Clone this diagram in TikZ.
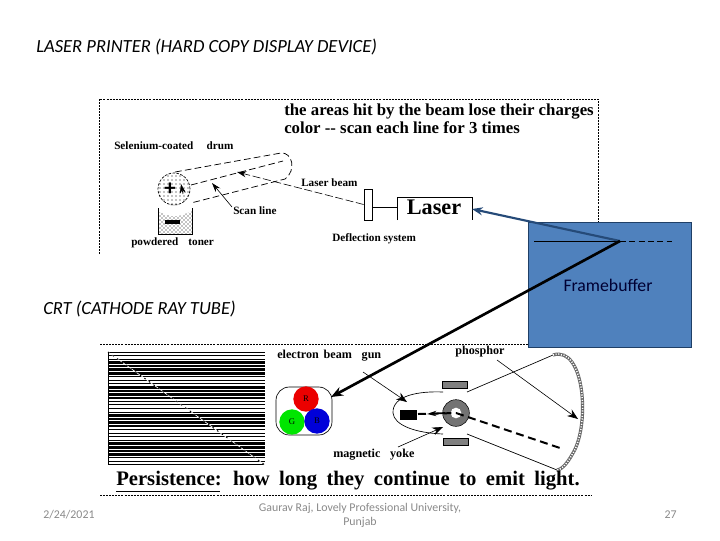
\documentclass[tikz,border=0pt]{standalone}
\usepackage{fontspec}
\setmainfont{Carlito}
\newfontfamily\figserif{Liberation Serif}
\usetikzlibrary{arrows.meta,patterns}
\definecolor{fbblue}{HTML}{4F81BD}
\definecolor{fbedge}{HTML}{1F3F66}
\definecolor{beamblue}{HTML}{254A78}
\tikzset{
  px/.style={x=0.75pt,y=-0.75pt},
  slidetitle/.style={anchor=west,inner sep=0,font=\fontsize{13.9}{16}\selectfont\itshape},
  foot/.style={inner sep=0,text=black!46,font=\fontsize{8.9}{10.5}\selectfont,align=center},
  figlabel/.style={anchor=west,inner sep=0,font=\figserif\bfseries\fontsize{8.4}{9}\selectfont},
  crtlabel/.style={anchor=west,inner sep=0,font=\figserif\bfseries\fontsize{9.1}{10}\selectfont},
  figtitle/.style={anchor=west,inner sep=0,font=\figserif\bfseries\fontsize{12.6}{14}\selectfont},
  frame/.style={line width=0.6pt,dash pattern=on 1.5pt off 0.8pt},
  dash line/.style={line width=0.55pt,dash pattern=on 5pt off 2.5pt},
  small tip/.style={-{Stealth[length=7pt,width=4.5pt]},line width=0.45pt},
  big tip/.style={-{Stealth[length=8pt,width=6pt]},line width=0.45pt},
  framebuffer/.style={draw=fbedge,line width=0.7pt,fill=fbblue,inner sep=0},
  yoke/.style={draw,line width=0.4pt,fill=black!50,minimum width=19pt,minimum height=5.5pt,inner sep=0},
  gunball/.style={circle,minimum size=19pt,inner sep=0,font=\figserif\fontsize{6.5}{7}\selectfont},
}
\begin{document}
\begin{tikzpicture}[px]
\useasboundingbox (0,0) rectangle (720,540);
\fill[white] (0,0) rectangle (720,540);

% slide titles
\node[slidetitle] (t1) at (36,47) {LASER PRINTER (HARD COPY DISPLAY DEVICE)};
\node[slidetitle] (t2) at (43,309) {CRT (CATHODE RAY TUBE)};

% upper figure frame
\draw[frame] (99,254) -- (99,99) -- (598,99) -- (598,225);
\node[figtitle] (l1) at (284,112) {the areas hit by the beam lose their charges};
\node[figtitle] (l2) at (284,128) {color -- scan each line for 3 times};
\node[figlabel] (sel) at (114,146) {Selenium-coated\hspace{1.2em}drum};
\node[figlabel] (lb) at (301,183) {Laser beam};
\node[figlabel] (sl) at (233,211) {Scan line};
\node[figlabel] (pt) at (131,243) {powdered\hspace{0.9em}toner};
\node[figlabel] (ds) at (332,239) {Deflection system};

% drum
\node[circle,draw,dash pattern=on 2pt off 1pt,line width=0.5pt,pattern=dots,minimum size=24pt,inner sep=0] (drum) at (174,189) {};
\draw[dash line] (175,172) -- (281,153) .. controls (292,152) and (297,170) .. (285,179) -- (191,203);
\draw[dash line] (191,185) -- (283,161);
\node[inner sep=0,font=\bfseries\fontsize{17}{17}\selectfont] (plus) at (170,189) {+};
\draw[small tip] (183,194) -- (181,184);
% toner
\path[pattern=crosshatch dots] (159,212) .. controls (170,218) and (182,218) .. (192,210) -- (192,234) -- (159,234) -- cycle;
\draw[line width=0.5pt] (158,208) -- (158,234) -- (192,234) -- (192,208);
\fill (165,220) rectangle (180,224);

% scan and laser arrows
\coordinate (sl0) at (232,207);
\coordinate (sl1) at (212,183);
\draw[small tip] (sl0) -- (sl1);
\coordinate (beamhit) at (237,172);
\node[draw,line width=0.5pt,fill=white,minimum width=6pt,minimum height=23pt,inner sep=0] (defl) at (368,204.5) {};
\draw[small tip,dash pattern=on 6pt off 2pt] (defl.west) -- (beamhit);
% laser box
\draw[line width=0.6pt] (397,220) -- (397,197) -- (472,197) -- (472,220);
\node[inner sep=0,font=\figserif\bfseries\fontsize{16.7}{17}\selectfont] (laser) at (434,207) {Laser};
\coordinate (laserL) at (397,207);
\draw[line width=0.6pt] (defl.east |- laserL) -- (laserL);

% lower figure frame
\draw[frame] (100,344) -- (530,344);
\draw[frame] (100,495) -- (591,495);

% raster: thin scan lines, with four bands where they thicken
\foreach \r in {0,...,32}{
  \pgfmathsetmacro{\yy}{352+\r*3.53}
  \pgfmathsetmacro{\ww}{(\yy>361 && \yy<376) || (\yy>386 && \yy<401) || (\yy>414 && \yy<429) || (\yy>443 && \yy<455) ? 2.0 : 0.75}
  \draw[line width=\ww pt] (108,\yy) -- (265,\yy);
}
\draw[line width=0.75pt] (108,352) -- (108,465);
\draw[white,line width=0.5pt] (108,352) -- (265,465);
\draw[black,line width=0.7pt,dash pattern=on 1.2pt off 3pt] (108,352) -- (265,465);

% RGB
\draw[line width=0.5pt,rounded corners=10pt] (276,387) rectangle (332,435);
\node[gunball,fill=red!92!black] (R) at (306,399) {R};
\node[gunball,fill=green!90!black] (G) at (292,422) {G};
\node[gunball,fill=blue!85!black] (B) at (317,421) {B};

% CRT labels
\node[crtlabel] (egun) at (277,356) {electron\hspace{0.4em}beam\hspace{0.8em}gun};
\node[crtlabel] (ph) at (455,352) {phosphor};
\node[crtlabel] (my) at (333,455) {magnetic\hspace{0.8em}yoke};

% CRT
\draw[line width=0.5pt] (443,392) .. controls (420,391) and (392,395) .. (393,413) .. controls (394,425) and (415,433) .. (443,434);
\draw[line width=0.5pt] (467,392) -- (553,355);
\draw[line width=0.5pt] (467,434) -- (557,470);
\draw[line width=2.4pt,black!60] (553,355) .. controls (585,345) and (590,425) .. (573,453) .. controls (566,466) and (560,470) .. (557,470);
\draw[line width=1.2pt,white,dash pattern=on 0.8pt off 1.2pt] (553,355) .. controls (585,345) and (590,425) .. (573,453) .. controls (566,466) and (560,470) .. (557,470);
\fill (400,410) rectangle (417,420);
\node[yoke] (y1) at (454.5,384.5) {};
\node[yoke] (y2) at (455.5,442) {};
\node[circle,line width=0.4pt,draw,fill=black!55,minimum size=20pt,inner sep=0] (coil) at (456,413) {};
\node[circle,fill=white,minimum size=8pt,inner sep=0] (core) at (456,413) {};
\coordinate (gunout) at (418,414);
\coordinate (beamend) at (563,449);
\draw[line width=1.5pt,dash pattern=on 6pt off 3.5pt] (gunout) -- (coil.center) -- (beamend);
\draw[-{Stealth[length=7pt,width=4pt]},line width=1.3pt] (445,413) -- (427,414);
\coordinate (a1) at (363,372); \coordinate (a1e) at (407,402);
\coordinate (a2) at (497,360); \coordinate (a2e) at (578,419);
\coordinate (a3) at (398,447); \coordinate (a3e) at (443,427);
\draw[big tip] (a1) -- (a1e);
\draw[big tip] (a2) -- (a2e);
\draw[big tip] (a3) -- (a3e);

\node[inner sep=0,anchor=west,font=\figserif\bfseries\fontsize{15.5}{18}\selectfont] (pers) at (116,481) {\spaceskip=7.1pt Persistence: how long they continue to emit light.};
\draw[line width=0.7pt] (116,491) -- (220,491);

% framebuffer box
\node[framebuffer,minimum width=122.25pt,minimum height=93.75pt] (fb) at (609.5,284.5) {};
\node[inner sep=0,text=black!80!blue,font=\fontsize{13.3}{15}\selectfont] (fbl) at (608,285) {Framebuffer};
\coordinate (lineL) at (534,241);
\coordinate (hub) at (620,241);
\coordinate (lineR) at (672,241);
\draw[line width=0.6pt] (lineL) -- (hub);
\draw[line width=0.6pt,dash pattern=on 4.5pt off 2.5pt] (hub) -- (lineR);
\coordinate (laserR) at (472,209);
\draw[beamblue,line width=1.6pt,-{Stealth[length=8pt,width=6pt]}] (hub) -- (laserR);
\coordinate (rgbtip) at (331,397);
\draw[black,line width=2pt,-{Stealth[length=9pt,width=7pt]}] (hub) -- (rgbtip);

% footer
\node[foot,anchor=west] (date) at (43,515) {2/24/2021};
\node[foot] (auth) at (360,515) {Gaurav Raj, Lovely Professional University,\\Punjab};
\node[foot,anchor=east] (pg) at (677,515) {27};
\end{tikzpicture}
\end{document}
